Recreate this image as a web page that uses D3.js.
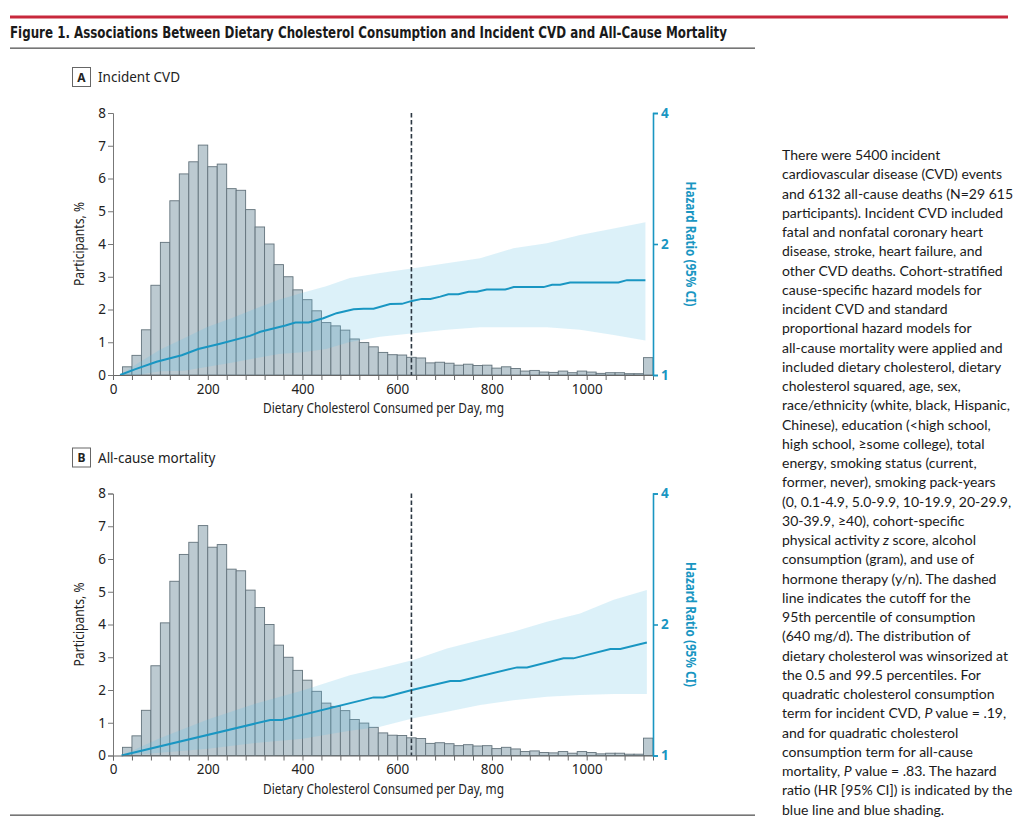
<!DOCTYPE html>
<html><head><meta charset="utf-8">
<script src="https://cdn.jsdelivr.net/npm/d3@7"></script>
<style>
body{margin:0;background:#fff;}
svg text{font-family:"Noto Sans","Open Sans",sans-serif;}
</style></head>
<body>
<script>
// ---------------- DATA ----------------
const binStarts = [20,40,60,80,100,120,140,160,180,200,220,240,260,280,300,320,340,360,380,400,
  420,440,460,480,500,520,540,560,580,600,620,640,660,680,700,720,740,760,780,800,
  820,840,860,880,900,920,940,960,980,1000,1020,1040,1060,1080,1100,1120];
const binWidth = 20;
const participantsPct = [0.25,0.60,1.38,2.74,4.05,5.32,6.14,6.51,7.02,6.36,
  6.44,5.69,5.64,5.05,4.52,4.00,3.37,3.00,2.60,2.30,
  1.96,1.60,1.50,1.37,1.10,0.99,0.86,0.69,0.62,0.61,
  0.54,0.52,0.37,0.39,0.36,0.30,0.33,0.29,0.30,0.21,
  0.25,0.20,0.12,0.14,0.09,0.08,0.12,0.07,0.12,0.09,
  0.05,0.07,0.07,0.04,0.04,0.53];

// Panel A: incident CVD hazard ratio
const cvdLineX  = [15,46,92,145,180,226,289,311,364,385,413,444,472,508,529,550,585,610,631,652,670,691,708,729,751,768,789,828,846,909,927,944,965,1067,1085,1124];
const cvdLineHR = [1.0,1.03,1.073,1.11,1.147,1.18,1.23,1.257,1.30,1.32,1.32,1.35,1.387,1.416,1.42,1.42,1.456,1.457,1.48,1.496,1.496,1.514,1.533,1.533,1.553,1.553,1.572,1.572,1.592,1.592,1.612,1.612,1.632,1.632,1.652,1.652];
const cvdBandX  = [15,50,100,150,200,250,300,350,400,450,500,564,634,704,775,845,916,986,1057,1124];
const cvdBandLo = [1.0,1.0,1.02,1.023,1.045,1.067,1.092,1.117,1.128,1.148,1.19,1.225,1.247,1.27,1.287,1.287,1.287,1.27,1.236,1.20];
const cvdBandHi = [1.0,1.06,1.145,1.215,1.29,1.35,1.42,1.49,1.545,1.60,1.67,1.715,1.759,1.807,1.855,1.955,2.007,2.098,2.17,2.245];

// Panel B: all-cause mortality hazard ratio
const mortLineX  = [18,332,356,550,571,631,712,733,853,874,951,972,1050,1071,1127];
const mortLineHR = [1.0,1.207,1.207,1.36,1.36,1.414,1.483,1.483,1.594,1.594,1.672,1.672,1.757,1.757,1.818];
const mortBandX  = [18,100,200,300,400,500,564,634,705,775,845,916,986,1057,1127];
const mortBandLo = [1.0,1.015,1.037,1.068,1.093,1.14,1.165,1.218,1.26,1.306,1.34,1.365,1.377,1.384,1.384];
const mortBandHi = [1.0,1.097,1.21,1.315,1.41,1.53,1.586,1.657,1.762,1.842,1.925,2.03,2.12,2.28,2.40];

const cutoffMg = 630;
const xTickValues = [0,40,80,120,160,200,240,280,320,360,400,440,480,520,560,600,640,680,720,760,800,840,880,920,960,1000,1040,1080,1120];
const xTickLabels = [0,200,400,600,800,1000];
const yLeftTicks = [0,1,2,3,4,5,6,7,8];
const yRightTicks = [1,2,4];

const figTitle = "Figure 1. Associations Between Dietary Cholesterol Consumption and Incident CVD and All-Cause Mortality";
const xTitle = "Dietary Cholesterol Consumed per Day, mg";
const yLeftTitle = "Participants, %";
const yRightTitle = "Hazard Ratio (95% CI)";
const captionLines = [
 "There were 5400 incident",
 "cardiovascular disease (CVD) events",
 "and 6132 all-cause deaths (N=29 615",
 "participants). Incident CVD included",
 "fatal and nonfatal coronary heart",
 "disease, stroke, heart failure, and",
 "other CVD deaths. Cohort-stratified",
 "cause-specific hazard models for",
 "incident CVD and standard",
 "proportional hazard models for",
 "all-cause mortality were applied and",
 "included dietary cholesterol, dietary",
 "cholesterol squared, age, sex,",
 "race/ethnicity (white, black, Hispanic,",
 "Chinese), education (<high school,",
 "high school, \u2265some college), total",
 "energy, smoking status (current,",
 "former, never), smoking pack-years",
 "(0, 0.1-4.9, 5.0-9.9, 10-19.9, 20-29.9,",
 "30-39.9, \u226540), cohort-specific",
 "physical activity *z* score, alcohol",
 "consumption (gram), and use of",
 "hormone therapy (y/n). The dashed",
 "line indicates the cutoff for the",
 "95th percentile of consumption",
 "(640 mg/d). The distribution of",
 "dietary cholesterol was winsorized at",
 "the 0.5 and 99.5 percentiles. For",
 "quadratic cholesterol consumption",
 "term for incident CVD, *P* value = .19,",
 "and for quadratic cholesterol",
 "consumption term for all-cause",
 "mortality, *P* value = .83. The hazard",
 "ratio (HR [95% CI]) is indicated by the",
 "blue line and blue shading."
];

// ---------------- STYLE ----------------
const BLUE = "#1996c2";
const BAR_FILL = "#bccad1";
const BAR_STROKE = "#63737c";
const BAND_FILL = "#5fbde3";
const TEXT = "#222";

const W = 1024, H = 831;
const svg = d3.select("body").append("svg").attr("width", W).attr("height", H);

// header rules and title
svg.append("rect").attr("x",10).attr("y",15.5).attr("width",998).attr("height",3).attr("fill","#c8283c");
const t = svg.append("text").attr("x",10).attr("y",38).text(figTitle)
  .style("font-family","'Liberation Sans Narrow','DejaVu Sans Condensed','Roboto',sans-serif")
  .style("font-weight","bold").style("font-size","16.5px").attr("fill","#1a1a1a");
t.attr("textLength",717).attr("lengthAdjust","spacingAndGlyphs");
svg.append("rect").attr("x",10).attr("y",47.5).attr("width",745).attr("height",1.3).attr("fill","#555");
svg.append("rect").attr("x",10).attr("y",814.5).attr("width",745).attr("height",1.3).attr("fill","#555");

const x = d3.scaleLinear().domain([0,1140]).range([113,653]);
const PH = 262;

function fitText(sel, target){
  const w = sel.node().getComputedTextLength();
  if (w > 0) sel.attr("textLength", target).attr("lengthAdjust","spacingAndGlyphs");
}

function panel(top, letter, name, lx, lhr, bx, blo, bhi){
  const g = svg.append("g").attr("transform",`translate(0,${top})`);
  const yL = d3.scaleLinear().domain([0,8]).range([PH,0]);
  const yR = d3.scaleLog().domain([1,4]).range([PH,0]);

  // panel label box
  g.append("rect").attr("x",72.5).attr("y",-45.5).attr("width",18).attr("height",19)
    .attr("fill","#fff").attr("stroke","#666").attr("stroke-width",1);
  g.append("text").attr("x",81.5).attr("y",-31.5).attr("text-anchor","middle")
    .style("font-weight","bold").style("font-size","12px").attr("fill",TEXT).text(letter);
  g.append("text").attr("x",98).attr("y",-31).style("font-size","13.5px").attr("fill",TEXT).text(name);

  // bars
  g.selectAll("rect.bar").data(binStarts).join("rect").attr("class","bar")
    .attr("x", d => x(d)).attr("width", d => x(d+binWidth)-x(d))
    .attr("y", (d,i) => yL(participantsPct[i]))
    .attr("height", (d,i) => yL(0)-yL(participantsPct[i]))
    .attr("fill", BAR_FILL).attr("stroke", BAR_STROKE).attr("stroke-width",0.9);

  // CI band
  const band = bx.map((v,i)=>({x:v, lo:blo[i], hi:bhi[i]}));
  g.append("path").datum(band)
    .attr("d", d3.area().x(d=>x(d.x)).y0(d=>yR(d.lo)).y1(d=>yR(d.hi)))
    .attr("fill", BAND_FILL).attr("fill-opacity",0.22);

  // HR line
  const ln = lx.map((v,i)=>({x:v, y:lhr[i]}));
  g.append("path").datum(ln)
    .attr("d", d3.line().x(d=>x(d.x)).y(d=>yR(d.y)))
    .attr("fill","none").attr("stroke",BLUE).attr("stroke-width",2);

  // cutoff dashed line
  g.append("line").attr("x1",x(cutoffMg)).attr("x2",x(cutoffMg)).attr("y1",0).attr("y2",PH)
    .attr("stroke","#2c3843").attr("stroke-width",1.6).attr("stroke-dasharray","4.5,2.5");

  // bottom axis
  const xa = g.append("g").attr("transform",`translate(0,${PH})`)
    .call(d3.axisBottom(x).tickValues(xTickValues).tickSize(5)
      .tickFormat(d => xTickLabels.includes(d) ? d : ""));
  xa.select(".domain").attr("stroke","#666");
  xa.selectAll(".tick line").attr("stroke","#666");
  xa.selectAll("text").style("font-size","13.5px").attr("fill",TEXT).attr("y",9);

  // left axis
  const la = g.append("g").attr("transform",`translate(${x(0)},0)`)
    .call(d3.axisLeft(yL).tickValues(yLeftTicks).tickSize(5));
  la.select(".domain").attr("stroke","#777");
  la.selectAll(".tick line").attr("stroke","#777");
  la.selectAll("text").style("font-size","13.5px").attr("fill",TEXT).attr("x",-7);

  // right axis
  const ra = g.append("g").attr("transform",`translate(${x(1140)},0)`)
    .call(d3.axisRight(yR).tickValues(yRightTicks).tickSize(5).tickFormat(d3.format("d")));
  ra.select(".domain").attr("stroke",BLUE).attr("stroke-width",1.6);
  ra.selectAll(".tick line").attr("stroke",BLUE).attr("stroke-width",1.6);
  ra.selectAll("text").style("font-size","13.5px").style("font-weight","bold").attr("fill",BLUE).attr("x",8);

  // axis titles
  const xt = g.append("text").attr("x",383.5).attr("y",PH+38).attr("text-anchor","middle")
    .style("font-size","13.5px").attr("fill",TEXT).text(xTitle);
  fitText(xt, 241);
  const yt = g.append("text").attr("transform",`translate(84,${PH/2}) rotate(-90)`)
    .attr("text-anchor","middle").style("font-size","14px").attr("fill",TEXT).text(yLeftTitle);
  fitText(yt, 84);
  const rt = g.append("text").attr("transform",`translate(686,${PH/2}) rotate(90)`)
    .attr("text-anchor","middle").style("font-size","13.5px").style("font-weight","bold")
    .attr("fill",BLUE).text(yRightTitle);
  fitText(rt, 125);
}

panel(113, "A", "Incident CVD", cvdLineX, cvdLineHR, cvdBandX, cvdBandLo, cvdBandHi);
panel(493.5, "B", "All-cause mortality", mortLineX, mortLineHR, mortBandX, mortBandLo, mortBandHi);

// caption text block
const cap = svg.append("text").attr("fill","#1a1a1a")
  .style("font-family","Lato,'Noto Sans',sans-serif").style("font-size","14px");
captionLines.forEach((line,i) => {
  const tl = cap.append("tspan").attr("x",782).attr("y",160 + i*19.25);
  line.split("*").forEach((part,j) => {
    if (!part) return;
    tl.append("tspan").style("font-style", j%2 ? "italic" : "normal").text(part);
  });
});
// scale caption font so the widest line matches reference width
(function(){
  const probe = svg.append("text").style("font-family","Lato,'Noto Sans',sans-serif")
    .style("font-size","14px").text(captionLines[13]);
  const w = probe.node().getComputedTextLength();
  probe.remove();
  const fs = 14 * 228 / w;
  cap.style("font-size", fs.toFixed(2)+"px");
})();
</script>
</body></html>
